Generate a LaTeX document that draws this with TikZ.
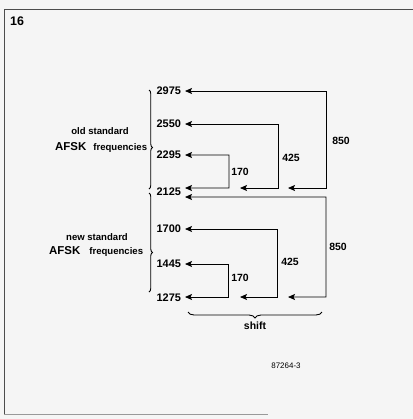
\documentclass[tikz,border=0pt]{standalone}
\usepackage{fontspec}
\setmainfont{Liberation Sans}
\usetikzlibrary{arrows.meta,decorations.pathreplacing}

\begin{document}
\begin{tikzpicture}[x=1bp,y=-1bp,
  freq/.style={anchor=east,inner sep=0pt,outer sep=4bp,font=\fontsize{11}{13}\selectfont\bfseries},
  shiftlbl/.style={font=\fontsize{10.5}{12}\selectfont\bfseries,inner sep=0pt},
  small/.style={font=\fontsize{9.6}{11}\selectfont\bfseries,inner sep=0pt},
  arr/.style={{Stealth[length=7bp,width=6bp,inset=1.5bp]}-{Stealth[length=7bp,width=6bp,inset=1.5bp]},line width=0.8pt,black},
  brc/.style={decorate,decoration={brace,amplitude=#1},line width=0.9pt}]
  \fill[black!4] (0,0) rectangle (413,419); \useasboundingbox (0,0) rectangle (413,419);
  \draw[line width=0.7pt,black!70] (4,414) -- (4,9) -- (413,9); \draw[line width=0.5pt,black!40] (4,414) -- (268,414);
  \node[shiftlbl,anchor=west] (fig) at (10,21) {\fontsize{12.5}{14}\selectfont 16};
  % frequencies
  \node[freq] (f2975) at (185,91) {2975}; \node[freq] (f2550) at (185,124) {2550};
  \node[freq] (f2295) at (185,155) {2295}; \node[freq] (f2125) at (185,192) {2125};
  \node[freq] (f1700) at (185,229) {1700}; \node[freq] (f1445) at (185,264) {1445};
  \node[freq] (f1275) at (185,298) {1275};
  \coordinate (a2125) at ([yshift=4bp]f2125.east); \coordinate (b2125) at ([yshift=-5bp]f2125.east);
  \coordinate (a1275) at ([yshift=1bp]f1275.east);
  % shifts, old standard
  \coordinate (t425a) at (240,188); \coordinate (t850a) at (288,188);
  \draw[arr] (f2295.east) -- (229,155) -- (229,188) -- (a2125);
  \draw[arr] (f2550.east) -- (278,124) -- (278,188) -- (t425a);
  \draw[arr] (f2975.east) -- (326,91) -- (326,188) -- (t850a);
  % shifts, new standard
  \coordinate (t425b) at (240,297); \coordinate (t850b) at (288,297);
  \draw[arr] (f1445.east) -- (228,264) -- (228,297) -- (a1275);
  \draw[arr] (f1700.east) -- (277,229) -- (277,297) -- (t425b);
  \draw[arr] (b2125) -- (326,197) -- (326,297) -- (t850b);
  \node[shiftlbl] (s170a) at (240,172) {170}; \node[shiftlbl] (s425a) at (291,158) {425};
  \node[shiftlbl] (s850a) at (341,141) {850};
  \node[shiftlbl] (s170b) at (240,278) {170}; \node[shiftlbl] (s425b) at (290,262) {425};
  \node[shiftlbl] (s850b) at (338,247) {850};
  % braces
  \draw[brc=3.5bp,decoration={aspect=0.58}] (149,90) -- (149,189);
  \draw[brc=3.5bp,decoration={aspect=0.6}] (149,193) -- (149,292);
  \draw[brc=6bp] (322,312) -- (188,312);
  \node[shiftlbl] (shift) at (255,326) {shift};
  \node[small] (old) at (100,131) {old standard};
  \node[small,anchor=west] (oldafsk) at (55,147) {{\fontsize{11.5}{13}\selectfont AFSK}\hspace{7bp}frequencies};
  \node[small] (new) at (97,237) {new standard};
  \node[small,anchor=west] (newafsk) at (49,251) {{\fontsize{11.5}{13}\selectfont AFSK}\hspace{9bp}frequencies};
  \node[font=\fontsize{8}{10}\selectfont,inner sep=0pt] (code) at (286,366) {87264-3};
\end{tikzpicture}
\end{document}
